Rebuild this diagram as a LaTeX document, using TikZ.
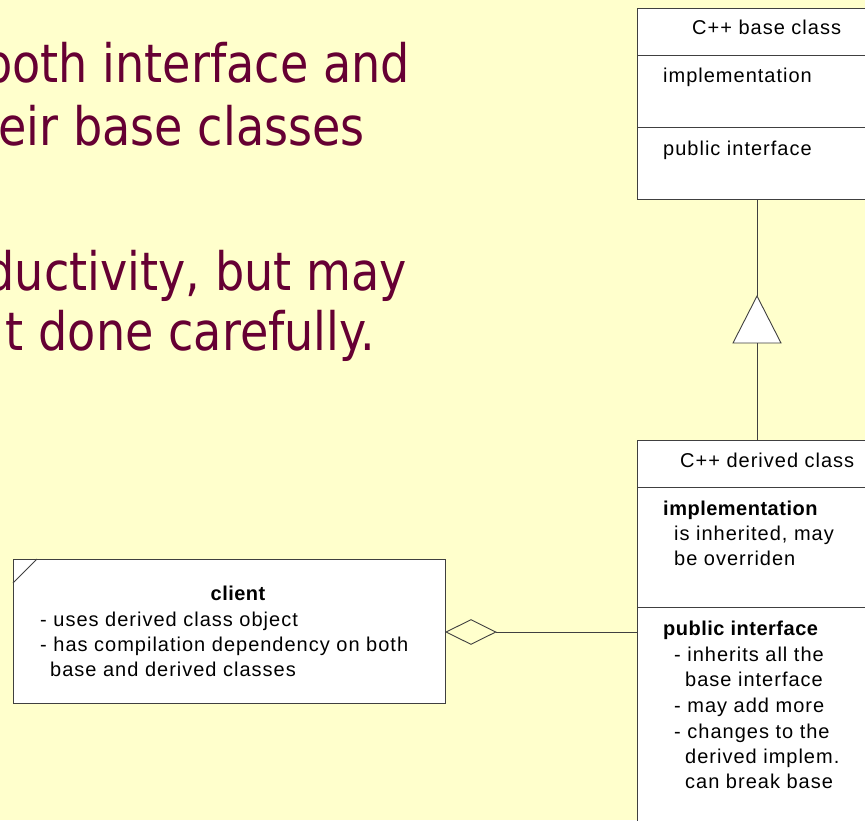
\documentclass[tikz,border=0pt]{standalone}
\usepackage{fontspec}
\setmainfont{Liberation Sans}
\newfontfamily\diagfont{Liberation Sans}[LetterSpace=5,BoldFeatures={LetterSpace=2.5}]
\newfontfamily\titlefont{DejaVu Sans}
\usetikzlibrary{shapes.geometric}
\definecolor{bg}{HTML}{FFFFCC}
\definecolor{maroontxt}{HTML}{660033}
\definecolor{edge}{HTML}{404040}
\begin{document}
\begin{tikzpicture}[x=1pt,y=-1pt,
  box/.style={draw=edge, fill=white, line width=0.9pt, rectangle, anchor=north west, inner sep=0pt},
  lbl/.style={anchor=base west, inner sep=0pt, font=\diagfont\fontsize{20}{24}\selectfont},
  ttl/.style={anchor=base east, inner sep=0pt, text=maroontxt, font=\titlefont\fontsize{53}{60}\selectfont},
  conn/.style={draw=edge, line width=0.9pt}]
\useasboundingbox (0,0) rectangle (865,820);
\fill[bg] (0,0) rectangle (865,820);
\clip (0,0) rectangle (865,820);

% title fragments
\node[ttl] (t1) at (410,82) {\scalebox{0.87}[1]{both interface and}};
\node[ttl] (t2) at (365,145) {\scalebox{0.87}[1]{eir base classes}};
\node[ttl] (t3) at (407,290) {\scalebox{0.87}[1]{ductivity, but may}};
\node[ttl] (t4) at (375,350) {\scalebox{0.87}[1]{t done carefully.}};

% base class
\node[box, minimum width=263pt, minimum height=191pt] (base) at (637,8) {};
\draw[conn] (637,55) -- (900,55);
\draw[conn] (637,127) -- (900,127);
\node[lbl] (bh) at (692,34) {C++ base class};
\node[lbl] (bi) at (663,82) {implementation};
\node[lbl] (bp) at (663,155) {public interface};

% derived class
\node[box, minimum width=263pt, minimum height=400pt] (derived) at (637,440) {};
\draw[conn] (637,487) -- (900,487);
\draw[conn] (637,607) -- (900,607);
\node[lbl] (dh) at (680,467) {C++ derived class};
\node[lbl] (di) at (663,515) {\bfseries implementation};
\node[lbl] (di1) at (674,540) {is inherited, may};
\node[lbl] (di2) at (674,565) {be overriden};
\node[lbl] (dp) at (663,635) {\bfseries public interface};
\node[lbl] (dp1) at (674,661) {- inherits all the};
\node[lbl] (dp2) at (685,686) {base interface};
\node[lbl] (dp3) at (674,712) {- may add more};
\node[lbl] (dp4) at (674,738) {- changes to the};
\node[lbl] (dp5) at (685,763) {derived implem.};
\node[lbl] (dp6) at (685,788) {can break base};

% generalization
\coordinate (tip) at (757,296);
\coordinate (tbase) at (757,343);
\draw[conn] (tip |- base.south) -- (tip);
\draw[conn, fill=white] (tip) -- (733,343) -- (781,343) -- cycle;
\draw[conn] (tbase) -- (tbase |- derived.north);

% client
\node[box, minimum width=432pt, minimum height=144pt] (client) at (13,559) {};
\draw[conn] (13,583) -- (37,559);
\node[lbl, anchor=base] (ct) at (238,600) {\bfseries client};
\node[lbl] (c1) at (40,626) {- uses derived class object};
\node[lbl] (c2) at (40,651) {- has compilation dependency on both};
\node[lbl] (c3) at (50,676) {base and derived classes};

% aggregation
\node[diamond, draw=edge, line width=0.9pt, minimum width=50pt, minimum height=25pt, inner sep=0pt, anchor=west] (agg) at (445.5,632) {};
\draw[conn] (agg.east) -- (agg.east -| derived.west);
\end{tikzpicture}
\end{document}
